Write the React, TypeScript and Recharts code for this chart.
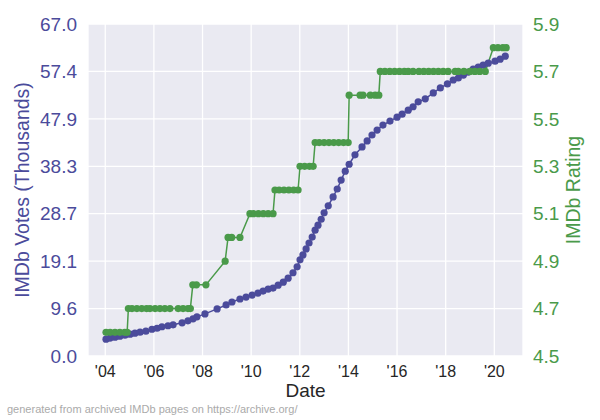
import React from "react";
import { LineChart, Line, XAxis, YAxis, CartesianGrid } from "recharts";

const voteYears = [2004.03, 2004.19, 2004.4, 2004.6, 2004.81, 2005.02, 2005.22, 2005.43, 2005.67, 2005.92, 2006.13, 2006.33, 2006.58, 2006.79, 2007.16, 2007.4, 2007.61, 2007.77, 2008.1, 2008.6, 2008.97, 2009.21, 2009.54, 2009.79, 2010.04, 2010.28, 2010.49, 2010.7, 2010.9, 2011.11, 2011.32, 2011.52, 2011.72, 2011.89, 2012.01, 2012.13, 2012.26, 2012.38, 2012.51, 2012.63, 2012.75, 2012.88, 2013.0, 2013.17, 2013.37, 2013.54, 2013.7, 2013.87, 2014.03, 2014.27, 2014.56, 2014.77, 2014.97, 2015.18, 2015.42, 2015.71, 2016.0, 2016.21, 2016.46, 2016.66, 2016.87, 2017.16, 2017.49, 2017.78, 2018.07, 2018.31, 2018.52, 2018.73, 2018.93, 2019.13, 2019.34, 2019.54, 2019.75, 2020.03, 2020.24, 2020.45];
const voteValues = [3.4, 3.6, 3.8, 4.0, 4.2, 4.4, 4.6, 4.8, 5.0, 5.4, 5.6, 5.9, 6.1, 6.3, 6.7, 7.1, 7.5, 7.9, 8.5, 9.5, 10.3, 10.9, 11.5, 11.9, 12.3, 12.7, 13.1, 13.5, 13.7, 14.3, 14.9, 15.7, 16.8, 18.0, 19.4, 20.4, 21.6, 22.8, 24.0, 25.4, 26.4, 27.6, 28.9, 30.3, 32.1, 33.7, 35.5, 37.3, 38.7, 40.6, 42.2, 43.4, 44.6, 45.6, 46.6, 47.4, 48.2, 48.8, 49.6, 50.3, 51.3, 51.9, 53.1, 54.1, 54.9, 55.7, 56.1, 56.7, 57.3, 57.9, 58.3, 58.7, 59.1, 59.5, 59.9, 60.5];

const ratingYears = [2004.03, 2004.2, 2004.4, 2004.6, 2004.8, 2004.9, 2004.95, 2005.1, 2005.3, 2005.5, 2005.7, 2005.84, 2006.05, 2006.25, 2006.45, 2006.66, 2007.0, 2007.2, 2007.4, 2007.5, 2007.6, 2007.75, 2008.14, 2008.93, 2009.05, 2009.2, 2009.54, 2009.95, 2010.1, 2010.3, 2010.5, 2010.7, 2010.9, 2010.98, 2011.15, 2011.35, 2011.55, 2011.75, 2011.93, 2012.01, 2012.2, 2012.4, 2012.55, 2012.63, 2012.8, 2013.0, 2013.2, 2013.4, 2013.6, 2013.8, 2013.99, 2014.03, 2014.48, 2014.6, 2014.9, 2015.1, 2015.25, 2015.31, 2015.5, 2015.7, 2015.9, 2016.1, 2016.3, 2016.46, 2016.66, 2016.9, 2017.1, 2017.3, 2017.5, 2017.7, 2017.9, 2018.1, 2018.39, 2018.52, 2018.75, 2019.0, 2019.2, 2019.4, 2019.63, 2019.96, 2020.15, 2020.35, 2020.49];
const ratingValues = [4.6, 4.6, 4.6, 4.6, 4.6, 4.6, 4.7, 4.7, 4.7, 4.7, 4.7, 4.7, 4.7, 4.7, 4.7, 4.7, 4.7, 4.7, 4.7, 4.7, 4.8, 4.8, 4.8, 4.9, 5.0, 5.0, 5.0, 5.1, 5.1, 5.1, 5.1, 5.1, 5.1, 5.2, 5.2, 5.2, 5.2, 5.2, 5.2, 5.3, 5.3, 5.3, 5.3, 5.4, 5.4, 5.4, 5.4, 5.4, 5.4, 5.4, 5.4, 5.6, 5.6, 5.6, 5.6, 5.6, 5.6, 5.7, 5.7, 5.7, 5.7, 5.7, 5.7, 5.7, 5.7, 5.7, 5.7, 5.7, 5.7, 5.7, 5.7, 5.7, 5.7, 5.7, 5.7, 5.7, 5.7, 5.7, 5.7, 5.8, 5.8, 5.8, 5.8];

const xTicks = [2004, 2006, 2008, 2010, 2012, 2014, 2016, 2018, 2020];
const voteTicks = [0, 67 / 7, (67 * 2) / 7, (67 * 3) / 7, (67 * 4) / 7, (67 * 5) / 7, (67 * 6) / 7, 67];
const ratingTicks = [4.5, 4.7, 4.9, 5.1, 5.3, 5.5, 5.7, 5.9];

const votesData = voteYears.map((t, i) => ({ t, votes: voteValues[i] }));
const ratingData = ratingYears.map((t, i) => ({ t, rating: ratingValues[i] }));

const BLUE = "#4b4b9b";
const GREEN = "#4a9a4a";
const FONT = "'Liberation Sans', Arial, sans-serif";

export default function App() {
  return (
    <div style={{ position: "absolute", left: 0, top: 0, width: 600, height: 420, background: "#fff", fontFamily: FONT }}>
      <LineChart width={600} height={420} margin={{ top: 24, right: 0, bottom: 0, left: 0 }}>
        <CartesianGrid stroke="#ffffff" strokeWidth={1.3} yAxisId="left" fill="#eaeaf2" fillOpacity={1} />
        <XAxis
          dataKey="t"
          type="number"
          domain={[2003.29, 2021.18]}
          ticks={xTicks}
          allowDataOverflow
          tickFormatter={(v: number) => "'" + String(v).slice(2)}
          axisLine={false}
          tickLine={false}
          tickMargin={4}
          height={64}
          tick={{ fill: "#262626", fontSize: 16, fontFamily: FONT }}
          label={{ value: "Date", position: "insideTop", offset: 28, fill: "#262626", fontSize: 19, fontFamily: FONT }}
        />
        <YAxis
          yAxisId="left"
          orientation="left"
          domain={[0, 67]}
          ticks={voteTicks}
          tickFormatter={(v: number) => v.toFixed(1)}
          axisLine={false}
          tickLine={false}
          tickMargin={5}
          width={88}
          tick={{ fill: BLUE, fontSize: 19, fontFamily: FONT }}
          label={() => (
            <text x={22} y={190} transform="rotate(-90 22 190)" textAnchor="middle" dominantBaseline="central" fill={BLUE} fontSize={19.5} fontFamily={FONT}>
              IMDb Votes (Thousands)
            </text>
          )}
        />
        <YAxis
          yAxisId="right"
          orientation="right"
          domain={[4.5, 5.9]}
          ticks={ratingTicks}
          tickFormatter={(v: number) => v.toFixed(1)}
          axisLine={false}
          tickLine={false}
          tickMargin={4}
          width={77}
          tick={{ fill: GREEN, fontSize: 19, fontFamily: FONT }}
          label={() => (
            <text x={573} y={190} transform="rotate(-90 573 190)" textAnchor="middle" dominantBaseline="central" fill={GREEN} fontSize={19.5} fontFamily={FONT}>
              IMDb Rating
            </text>
          )}
        />
        <Line
          yAxisId="left"
          data={votesData}
          dataKey="votes"
          stroke={BLUE}
          strokeWidth={1.5}
          dot={{ r: 3.6, fill: BLUE, stroke: BLUE, strokeWidth: 0 }}
          isAnimationActive={false}
        />
        <Line
          yAxisId="right"
          data={ratingData}
          dataKey="rating"
          stroke={GREEN}
          strokeWidth={1.5}
          dot={{ r: 3.6, fill: GREEN, stroke: GREEN, strokeWidth: 0 }}
          isAnimationActive={false}
        />
      </LineChart>
      <div style={{ position: "absolute", left: 7, top: 403, fontSize: 11, color: "#aaaaaa", fontFamily: FONT, whiteSpace: "nowrap" }}>
        generated from archived IMDb pages on https://archive.org/
      </div>
    </div>
  );
}
